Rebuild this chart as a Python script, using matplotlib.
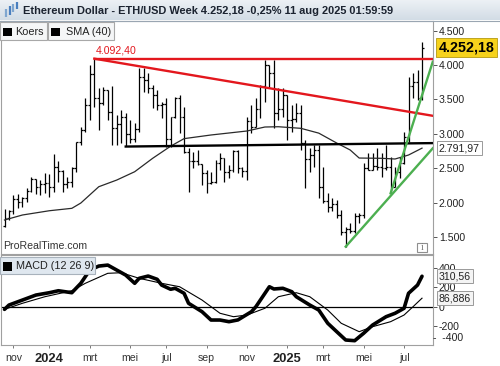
import matplotlib
matplotlib.use('Agg')
import matplotlib.pyplot as plt
import numpy as np
from matplotlib.patches import Rectangle
from matplotlib.colors import LinearSegmentedColormap

plt.rcParams['font.family'] = ['Liberation Sans', 'DejaVu Sans']

# ---------------- data ----------------
first_week = np.datetime64('2023-10-23')   # first weekly bar (Monday)

opens = [1660, 1780, 1880, 2050, 2010, 2060, 2170, 2350, 2220, 2270,
         2290, 2220, 2520, 2460, 2270, 2300, 2500, 2880, 3050, 3420,
         3870, 3520, 3450, 3640, 3320, 3080, 3150, 3250, 3000, 2920,
         3070, 3830, 3780, 3670, 3560, 3420, 3430, 2930, 3240, 3520,
         3250, 2740, 2610, 2610, 2560, 2430, 2280, 2300, 2580, 2650,
         2440, 2480, 2750, 2500, 2460, 3180, 3100, 3360, 3700, 4000,
         3880, 3300, 3360, 3560, 3200, 3210, 3300, 2860, 2630, 2690,
         2760, 2230, 2020, 1930, 1980, 1820, 1580, 1620, 1590, 1800,
         1820, 2500, 2480, 2530, 2520, 2500, 2520, 2230, 2440, 2570,
         2960, 3700, 3750, 3520]
highs = [1900, 1890, 2110, 2125, 2080, 2210, 2370, 2350, 2330, 2430,
         2415, 2710, 2600, 2475, 2370, 2520, 2880, 3100, 3520, 4000,
         4092, 3665, 3680, 3640, 3700, 3273, 3346, 3300, 3200, 3157,
         3956, 3956, 3884, 3709, 3636, 3462, 3520, 3244, 3535, 3564,
         3390, 2794, 2735, 2765, 2560, 2474, 2445, 2620, 2720, 2650,
         2547, 2765, 2765, 2522, 3250, 3419, 3520, 3709, 4073, 4000,
         4073, 3666, 3666, 3564, 3419, 3448, 3419, 2910, 2794, 2837,
         2837, 2522, 2140, 2067, 2038, 1892, 1650, 1700, 1853, 1850,
         2576, 2720, 2720, 2790, 2720, 2837, 2667, 2522, 2667, 3030,
         3830, 3890, 3930, 4340]
lows = [1640, 1750, 1835, 1920, 1935, 2010, 2150, 2125, 2110, 2140,
        2080, 2150, 2300, 2155, 2210, 2230, 2450, 2840, 3025, 3200,
        3390, 3055, 3420, 3200, 2840, 2837, 2870, 2820, 2870, 2880,
        3026, 3608, 3593, 3375, 3346, 3230, 2808, 2808, 3230, 3012,
        2720, 2154, 2503, 2547, 2256, 2140, 2270, 2285, 2474, 2300,
        2358, 2445, 2430, 2376, 2330, 3012, 3099, 3230, 3462, 3666,
        3084, 3200, 3244, 2910, 3026, 3172, 2765, 2212, 2445, 2517,
        2067, 1994, 1863, 1880, 1776, 1529, 1360, 1558, 1558, 1700,
        1776, 2474, 2474, 2474, 2372, 2474, 2140, 2220, 2358, 2560,
        2880, 3520, 3490, 3490]
closes = [1780, 1880, 2050, 2010, 2060, 2170, 2350, 2220, 2270, 2290,
          2220, 2520, 2460, 2270, 2300, 2500, 2880, 3050, 3420, 3870,
          3520, 3450, 3640, 3320, 3080, 3150, 3250, 3000, 2920, 3070,
          3830, 3780, 3670, 3560, 3420, 3430, 2930, 3240, 3520, 3250,
          2740, 2610, 2610, 2560, 2430, 2280, 2300, 2580, 2650, 2440,
          2480, 2750, 2500, 2460, 3180, 3100, 3360, 3700, 4000, 3880,
          3300, 3360, 3560, 3200, 3210, 3300, 2860, 2630, 2690, 2760,
          2230, 2020, 1930, 1980, 1820, 1580, 1620, 1590, 1800, 1820,
          2500, 2480, 2530, 2520, 2500, 2520, 2230, 2440, 2570, 2960,
          3700, 3750, 3520, 4252]

# SMA(40) (week index, value)
sma_weeks = [0, 4, 10, 15, 17, 21, 25, 29, 33, 37, 40, 46, 54, 58, 61,
             66, 70, 74, 77, 79, 84, 87, 90, 93]
sma_values = [1747, 1820, 1882, 1917, 1994, 2231, 2328, 2449, 2644, 2820,
              2930, 2983, 3041, 3099, 3103, 3080, 3010, 2866, 2765, 2648,
              2644, 2634, 2692, 2792]

# MACD (12 26 9)
macd_weeks = [0, 1, 4, 7, 10, 12, 15, 17, 19, 21, 23, 25, 27, 29, 30, 32,
              34, 35, 37, 38, 40, 41, 44, 46, 48, 50, 52, 55, 56, 59, 60,
              62, 64, 65, 68, 70, 72, 74, 76, 78, 80, 82, 85, 87, 89, 90,
              92, 93]
macd_values = [-27, 17, 68, 119, 143, 163, 143, 239, 374, 415, 425, 374,
               323, 239, 290, 313, 280, 221, 178, 188, 137, 35, -51, -136,
               -136, -153, -135, -51, 0, 204, 181, 188, 153, 102, 17, -34,
               -169, -255, -340, -347, -271, -187, -102, -67, -16, 137,
               221, 311]
signal_weeks = [0, 4, 9, 15, 18, 23, 26, 30, 35, 39, 44, 48, 51, 54, 58,
                61, 65, 68, 72, 75, 79, 82, 86, 89, 91, 93]
signal_values = [-27, 35, 102, 163, 239, 341, 347, 290, 239, 204, 68, -67,
                 -102, -85, -16, 102, 143, 102, -34, -169, -255, -204,
                 -153, -85, 0, 87]

# drawn trend lines (week index, price); right ends sit at the axis edge
red_desc_weeks, red_desc_prices = [20, 95.4], [4092.40, 3262]
black_weeks, black_prices = [27, 95.4], [2815, 2865]
green_long_weeks, green_long_prices = [76, 95.4], [1360, 2790]
green_steep_weeks, green_steep_prices = [86, 95.4], [2135, 4048]
resistance_week, resistance = 20, 4092.40

last_price = 4252.18
sma_last = 2791.97
macd_last = 310.56
signal_last = 86.886

month_dates = ['2023-11-06', '2024-01-01', '2024-03-04', '2024-05-06',
               '2024-07-01', '2024-09-02', '2024-11-04', '2025-01-06',
               '2025-03-03', '2025-05-05', '2025-07-07']
month_labels = ['nov', '2024', 'mrt', 'mei', 'jul', 'sep', 'nov', '2025',
                'mrt', 'mei', 'jul']
price_ticks = [1500, 2000, 2500, 3000, 3500, 4000, 4500]
macd_ticks = [400, 200, 0, -200]

title = 'Ethereum Dollar - ETH/USD Week 4.252,18 -0,25% 11 aug 2025 01:59:59'


def nl(v, dec=0):
    s = f"{v:,.{dec}f}"
    return s.replace(',', '#').replace('.', ',').replace('#', '.')


W, H = 500, 366
fig = plt.figure(figsize=(5, 3.66), dpi=100)
fig.patch.set_facecolor('white')


def fx(x):
    return x / W


def fy(y):
    return 1 - y / H


# header gradient
hax = fig.add_axes([0, fy(20.5), 1, 20.5 / H])
grad = np.linspace(0, 1, 50).reshape(-1, 1)
cmap = LinearSegmentedColormap.from_list('hdr', ['#eef2f6', '#d2dce5'])
hax.imshow(grad, aspect='auto', cmap=cmap, extent=[0, W, 20.5, 0])
hax.set_xlim(0, W)
hax.set_ylim(20.5, 0)
hax.axis('off')
# small icon
for xx, y0, y1, c in [(6, 9, 17, '#7fa6cf'), (9.5, 6, 15, '#4a7fbf'),
                      (13, 4, 12, '#7fa6cf'), (16.5, 2, 9, '#4a7fbf')]:
    hax.plot([xx, xx], [y0, y1], color=c, lw=1.6, solid_capstyle='butt')
hax.text(23, 11, title, fontsize=7.95, fontweight='bold', color='#1b2330',
         va='center', ha='left')
fig.add_artist(plt.Line2D([0, 1], [fy(20.5), fy(20.5)], color='#9aa6b2',
                          lw=0.8, transform=fig.transFigure))

xmin, xmax = -0.78, 95.38
idx = np.arange(len(closes))

# ---------------- price panel ----------------
ax = fig.add_axes([0.002, fy(254), 432.7 / W - 0.002, (254 - 21) / H])
ax.set_xlim(xmin, xmax)
ax.set_ylim(1253, 4640)
ax.vlines(idx, lows, highs, color='black', lw=0.9)
ax.hlines(opens, idx - 0.42, idx, color='black', lw=0.9)
ax.hlines(closes, idx, idx + 0.42, color='black', lw=0.9)
ax.plot(sma_weeks, sma_values, color='#2a2a2a', lw=0.9)

ax.plot([resistance_week, xmax], [resistance, resistance], color='#e3171d',
        lw=1.7, solid_capstyle='butt')
ax.plot(red_desc_weeks, red_desc_prices, color='#e3171d', lw=1.7)
ax.plot(black_weeks, black_prices, color='black', lw=1.7)
ax.plot(green_long_weeks, green_long_prices, color='#4caf50', lw=1.7)
ax.plot(green_steep_weeks, green_steep_prices, color='#4caf50', lw=1.7)
ax.annotate(nl(resistance, 2), xy=(resistance_week, resistance),
            xytext=(1, 2.5), textcoords='offset points', color='#e3171d',
            fontsize=7.6, ha='left', va='bottom')

ax.yaxis.tick_right()
ax.set_yticks(price_ticks)
ax.set_yticklabels([nl(v) for v in price_ticks])
ax.tick_params(axis='y', length=3, width=0.7, color='#555555', pad=1.5,
               labelsize=7.6, labelcolor='#222222')
ax.set_xticks([])
for s in ax.spines.values():
    s.set_color('#a0a0a0')
    s.set_linewidth(0.8)

ax.annotate(nl(last_price, 2), xy=(1, last_price),
            xycoords=('axes fraction', 'data'), xytext=(4.5, 0),
            textcoords='offset points', ha='left', va='center',
            fontsize=10.3, fontweight='bold', color='black',
            bbox=dict(boxstyle='square,pad=0.18', fc='#f6d21c',
                      ec='#b49a10', lw=0.6), annotation_clip=False)
ax.annotate(nl(sma_last, 2), xy=(1, sma_last),
            xycoords=('axes fraction', 'data'), xytext=(4.5, 0),
            textcoords='offset points', ha='left', va='center',
            fontsize=7.6, color='#222222',
            bbox=dict(boxstyle='square,pad=0.22', fc='white',
                      ec='#9a9a9a', lw=0.7), annotation_clip=False)

ax.text(0.004, 0.012, 'ProRealTime.com', transform=ax.transAxes,
        fontsize=7.6, color='#333333', ha='left', va='bottom')

# info icon
fig.add_artist(Rectangle((fx(416.7), fy(251.7)), 10 / W, 9 / H,
                         transform=fig.transFigure, fc='white',
                         ec='#8f8f8f', lw=0.8))
fig.text(fx(421.7), fy(247.2), 'i', fontsize=7, color='#777777',
         ha='center', va='center', family='Liberation Serif')

# legend boxes (price)
fig.add_artist(Rectangle((0, fy(40)), 47 / W, 18 / H,
                         transform=fig.transFigure, fc='#f5f6f7',
                         ec='#a8a8a8', lw=0.8))
fig.add_artist(Rectangle((fx(47.5), fy(40)), 66 / W, 18 / H,
                         transform=fig.transFigure, fc='#f5f6f7',
                         ec='#a8a8a8', lw=0.8))
fig.add_artist(Rectangle((fx(3), fy(36)), 8.5 / W, 8.5 / H,
                         transform=fig.transFigure, fc='black', ec='none'))
fig.add_artist(Rectangle((fx(51), fy(36)), 8.5 / W, 8.5 / H,
                         transform=fig.transFigure, fc='black', ec='none'))
fig.text(fx(15.5), fy(31.8), 'Koers', fontsize=7.8, color='#222222',
         va='center', ha='left')
fig.text(fx(65.5), fy(31.8), 'SMA (40)', fontsize=7.8, color='#222222',
         va='center', ha='left')

# ---------------- MACD panel ----------------
mx = fig.add_axes([0.002, fy(345), 432.7 / W - 0.002, 90 / H])
mx.set_xlim(xmin, xmax)
mx.set_ylim(-391, 528)
mx.axhline(0, color='black', lw=0.9)
mx.plot(signal_weeks, signal_values, color='black', lw=0.8)
mx.plot(macd_weeks, macd_values, color='black', lw=2.6,
        solid_joinstyle='round', solid_capstyle='round')
mx.yaxis.tick_right()
mx.set_yticks(macd_ticks)
mx.set_yticklabels([str(v) for v in macd_ticks])
mx.tick_params(axis='y', length=3, width=0.7, color='#555555', pad=1.5,
               labelsize=7.6, labelcolor='#222222')
mx.text(1.0, -322, '-  -400', transform=mx.get_yaxis_transform(),
        fontsize=7.6, color='#222222', ha='left', va='center')
for s in mx.spines.values():
    s.set_color('#a0a0a0')
    s.set_linewidth(0.8)

mweeks = [(np.datetime64(d) - first_week).astype(int) / 7 for d in month_dates]
mx.set_xticks(mweeks)
mx.set_xticklabels(month_labels)
mx.tick_params(axis='x', length=2, width=0.7, color='#777777', pad=3.5,
               labelsize=7.6, labelcolor='#333333')
for lab in mx.get_xticklabels():
    if lab.get_text().isdigit():
        lab.set_fontweight('bold')
        lab.set_fontsize(9.3)
        lab.set_color('#222222')

for val in (macd_last, signal_last):
    mx.annotate(nl(val, 2 if val > 100 else 3), xy=(1, val),
                xycoords=('axes fraction', 'data'), xytext=(4.5, 0),
                textcoords='offset points', ha='left', va='center',
                fontsize=7.6, color='#222222',
                bbox=dict(boxstyle='square,pad=0.2', fc='#f4f4f4',
                          ec='#9a9a9a', lw=0.7), annotation_clip=False)

# MACD legend
fig.add_artist(Rectangle((0, fy(274)), 95 / W, 17.3 / H,
                         transform=fig.transFigure, fc='#dfe7ef',
                         ec='#a8b2bc', lw=0.8))
fig.add_artist(Rectangle((fx(3), fy(270.5)), 9 / W, 9 / H,
                         transform=fig.transFigure, fc='black', ec='none'))
fig.text(fx(16), fy(266), 'MACD (12 26 9)', fontsize=7.8, color='#222222',
         va='center', ha='left')

fig.savefig('out.png', dpi=100)
